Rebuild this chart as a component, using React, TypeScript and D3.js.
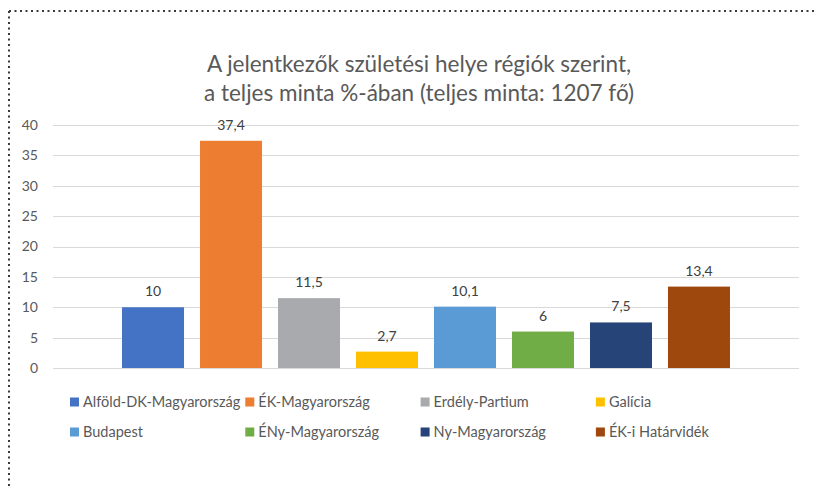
import { useEffect, useRef } from 'react';
import * as d3 from 'd3';

// chart data
const regions = [
  'Alföld-DK-Magyarország',
  'ÉK-Magyarország',
  'Erdély-Partium',
  'Galícia',
  'Budapest',
  'ÉNy-Magyarország',
  'Ny-Magyarország',
  'ÉK-i Határvidék',
];
const shares = [10, 37.4, 11.5, 2.7, 10.1, 6, 7.5, 13.4];
const shareLabels = ['10', '37,4', '11,5', '2,7', '10,1', '6', '7,5', '13,4'];
const regionColors = ['#4472C4', '#ED7D31', '#A9AAAD', '#FFC000', '#5B9BD5', '#70AD47', '#264478', '#9E480E'];
const yTicks = [0, 5, 10, 15, 20, 25, 30, 35, 40];
const titleLines = [
  'A jelentkezők születési helye régiók szerint,',
  'a teljes minta %-ában (teljes minta: 1207 fő)',
];

const FONT = 'Lato, "Open Sans", sans-serif';

function App() {
  const svgRef = useRef<SVGSVGElement>(null);

  useEffect(() => {
    const width = 817;
    const height = 487;
    const plot = { left: 53, right: 799, top: 125, bottom: 368 };

    d3.select(svgRef.current).selectAll('*').remove();
    const svg = d3.select(svgRef.current)
      .attr('width', width)
      .attr('height', height);

    // dotted frame (only the top and left edges are visible)
    svg.append('path')
      .attr('d', `M9,11 H817 M9,11 V487`)
      .attr('fill', 'none')
      .attr('stroke', '#3a3a3a')
      .attr('stroke-width', 2)
      .attr('stroke-dasharray', '2 3.5');

    // title
    svg.append('g')
      .selectAll('text')
      .data(titleLines)
      .join('text')
        .attr('x', 419)
        .attr('y', (d, i) => 72 + i * 29)
        .attr('text-anchor', 'middle')
        .attr('font-family', FONT)
        .attr('font-size', 22.5)
        .attr('fill', '#595959')
        .text(d => d);

    const y = d3.scaleLinear()
      .domain([0, 40])
      .range([plot.bottom, plot.top]);

    // one category holding all the series
    const x0 = d3.scaleBand()
      .domain(['all'])
      .range([plot.left, plot.right])
      .paddingOuter(0.0978);

    const x1 = d3.scaleBand()
      .domain(regions)
      .range([x0('all')!, x0('all')! + x0.bandwidth()])
      .paddingInner(0.205)
      .paddingOuter(0.1025);

    // gridlines
    svg.append('g')
      .selectAll('line')
      .data(yTicks)
      .join('line')
        .attr('x1', plot.left)
        .attr('x2', plot.right)
        .attr('y1', d => Math.round(y(d)) + 0.5)
        .attr('y2', d => Math.round(y(d)) + 0.5)
        .attr('stroke', '#D9D9D9')
        .attr('stroke-width', 1);

    // y tick labels
    svg.append('g')
      .selectAll('text')
      .data(yTicks)
      .join('text')
        .attr('x', 38)
        .attr('y', d => y(d))
        .attr('dy', '0.35em')
        .attr('text-anchor', 'end')
        .attr('font-family', FONT)
        .attr('font-size', 14)
        .attr('fill', '#595959')
        .text(d => d);

    // bars
    svg.append('g')
      .selectAll('rect')
      .data(regions)
      .join('rect')
        .attr('x', d => x1(d)!)
        .attr('y', (d, i) => y(shares[i]))
        .attr('width', x1.bandwidth())
        .attr('height', (d, i) => y(0) - y(shares[i]))
        .attr('fill', (d, i) => regionColors[i]);

    // data labels
    svg.append('g')
      .selectAll('text')
      .data(regions)
      .join('text')
        .attr('x', d => x1(d)! + x1.bandwidth() / 2)
        .attr('y', (d, i) => y(shares[i]) - 11)
        .attr('text-anchor', 'middle')
        .attr('font-family', FONT)
        .attr('font-size', 14)
        .attr('fill', '#404040')
        .text((d, i) => shareLabels[i]);

    // legend, 4 columns x 2 rows
    const legend = svg.append('g')
      .selectAll('g')
      .data(regions)
      .join('g')
        .attr('transform', (d, i) => `translate(${70 + (i % 4) * 175.3}, ${402 + Math.floor(i / 4) * 30})`);

    legend.append('rect')
      .attr('x', 0)
      .attr('y', -4.5)
      .attr('width', 9)
      .attr('height', 9)
      .attr('fill', (d, i) => regionColors[i]);

    legend.append('text')
      .attr('x', 13)
      .attr('y', 0)
      .attr('dy', '0.35em')
      .attr('font-family', FONT)
      .attr('font-size', 14.5)
      .attr('fill', '#595959')
      .text(d => d);
  }, []);

  return (
    <div style={{ position: 'absolute', left: 0, top: 0 }}>
      <svg ref={svgRef} style={{ display: 'block' }} />
    </div>
  );
}

export default App;
